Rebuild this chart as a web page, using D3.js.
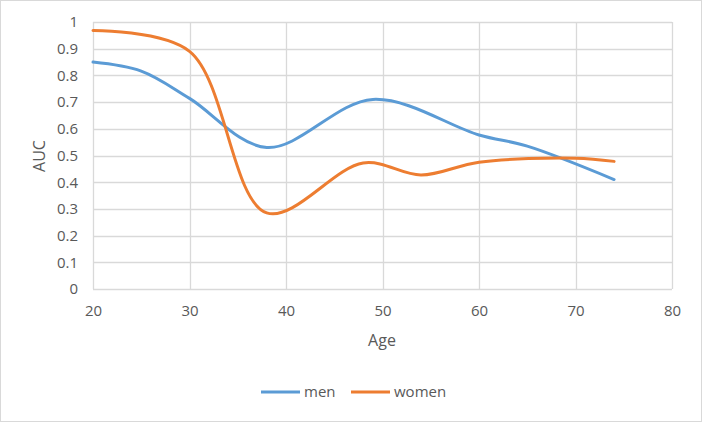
<!DOCTYPE html>
<html>
<head>
<meta charset="utf-8">
<script src="https://cdn.jsdelivr.net/npm/d3@7"></script>
<style>
  body { margin: 0; background: #fff; }
  svg { display: block; font-family: "Open Sans", sans-serif; }
</style>
</head>
<body>
<svg id="chart" width="702" height="422"></svg>
<script>
/** data **/
var menAge = [20, 25, 30, 38, 49, 60, 65, 74];
var menAuc = [0.85, 0.816, 0.714, 0.53, 0.71, 0.577, 0.535, 0.41];
var womenAge = [20, 30, 38, 48, 54, 60, 70, 74];
var womenAuc = [0.968, 0.89, 0.285, 0.472, 0.427, 0.475, 0.49, 0.478];
var xTicks = [20, 30, 40, 50, 60, 70, 80];
var yTicks = [0, 0.1, 0.2, 0.3, 0.4, 0.5, 0.6, 0.7, 0.8, 0.9, 1];
var seriesNames = ["men", "women"];
var seriesColors = ["#5b9bd5", "#ed7d31"];

var svg = d3.select("#chart");
var W = 702, H = 422;

// outer border
svg.append("rect")
  .attr("x", 0.5).attr("y", 0.5)
  .attr("width", W - 1).attr("height", H - 1)
  .attr("fill", "#fff").attr("stroke", "#d9d9d9");

var x = d3.scaleLinear().domain([20, 80]).range([93, 672]);
var y = d3.scaleLinear().domain([0, 1]).range([289, 22]);

var grid = svg.append("g");
//horizontal grid
grid.selectAll("line.h").data(yTicks).enter().append("line")
  .attr("class", "h")
  .attr("x1", x(20)).attr("x2", x(80))
  .attr("y1", function(d) { return Math.round(y(d)) + 0.5; })
  .attr("y2", function(d) { return Math.round(y(d)) + 0.5; })
  .attr("stroke", "#d9d9d9").attr("stroke-width", 1.3);
//vertical grid
grid.selectAll("line.v").data(xTicks).enter().append("line")
  .attr("class", "v")
  .attr("y1", y(0)).attr("y2", y(1))
  .attr("x1", function(d) { return Math.round(x(d)) + 0.5; })
  .attr("x2", function(d) { return Math.round(x(d)) + 0.5; })
  .attr("stroke", "#d9d9d9").attr("stroke-width", 1.3);

// axes (text only, lines are the grid)
var xAxis = svg.append("g")
  .attr("transform", "translate(0," + y(0) + ")")
  .call(d3.axisBottom(x).tickValues(xTicks).tickSize(0).tickPadding(16).tickFormat(d3.format("d")));
var yAxis = svg.append("g")
  .attr("transform", "translate(" + x(20) + ",0)")
  .call(d3.axisLeft(y).tickValues(yTicks).tickSize(0).tickPadding(15).tickFormat(function(d) { return d3.format("")(d); }));
[xAxis, yAxis].forEach(function(a) {
  a.select(".domain").remove();
  a.selectAll("text").attr("fill", "#595959").style("font-size", "15px").style("font-family", "Open Sans, sans-serif");
});

svg.append("text")
  .attr("x", 382).attr("y", 346)
  .attr("text-anchor", "middle")
  .attr("fill", "#595959").style("font-size", "16px")
  .text("Age");
svg.append("text")
  .attr("transform", "translate(45,156) rotate(-90)")
  .attr("text-anchor", "middle")
  .attr("fill", "#595959").style("font-size", "16px")
  .text("AUC");

// lines
var line = d3.line()
  .x(function(d) { return x(d[0]); })
  .y(function(d) { return y(d[1]); })
  .curve(d3.curveCatmullRom.alpha(0.5));

var series = [d3.zip(menAge, menAuc), d3.zip(womenAge, womenAuc)];
svg.selectAll("path.series").data(series).enter().append("path")
  .attr("class", "series")
  .attr("d", line)
  .attr("fill", "none")
  .attr("stroke", function(d, i) { return seriesColors[i]; })
  .attr("stroke-width", 3)
  .attr("stroke-linecap", "round");

// legend
var legX = [261, 351];
var leg = svg.selectAll("g.leg").data(seriesNames).enter().append("g")
  .attr("class", "leg")
  .attr("transform", function(d, i) { return "translate(" + legX[i] + ",392)"; });
leg.append("line")
  .attr("x1", 0).attr("x2", 39)
  .attr("stroke", function(d, i) { return seriesColors[i]; })
  .attr("stroke-width", 3);
leg.append("text")
  .attr("x", 43).attr("dy", "0.35em")
  .attr("fill", "#595959").style("font-size", "15px")
  .text(function(d) { return d; });
</script>
</body>
</html>
